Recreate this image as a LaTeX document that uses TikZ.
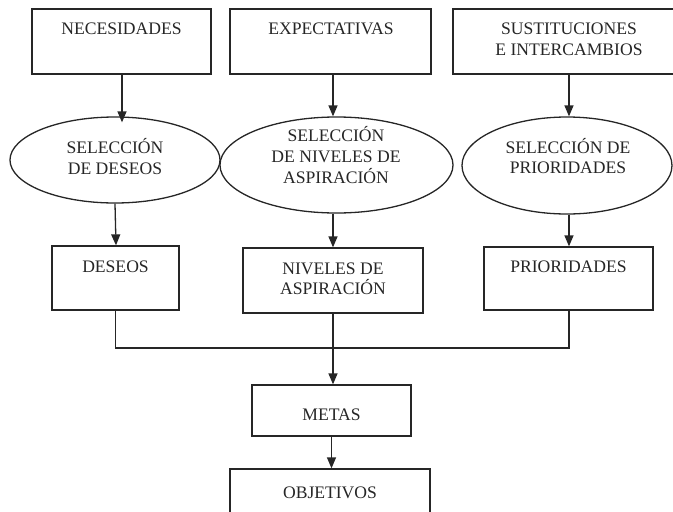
\documentclass[tikz,border=0pt]{standalone}
\usepackage{fontspec}
\setmainfont{Liberation Serif}
\usetikzlibrary{arrows.meta,shapes.geometric}

\tikzset{
  x=1pt, y=-1pt,
  line/.style={draw=black!85, line width=1.3pt},
  box/.style={line, rectangle, inner sep=0pt},
  oval/.style={line, ellipse, inner sep=0pt},
  txt/.style={anchor=base, inner sep=0pt, font=\fontsize{17.6}{21}\selectfont, text=black!85},
  arr/.style={line, -{Triangle[length=11pt,width=9pt]}},
}

\begin{document}
\begin{tikzpicture}
\useasboundingbox (0,0) rectangle (673,512);
\clip (0,0) rectangle (673,512);

% top row
\node[box, minimum width=179pt, minimum height=65pt] (nec) at (121.5,41.5) {};
\node[box, minimum width=201pt, minimum height=65pt] (exp) at (330.5,41.5) {};
\node[box, minimum width=232pt, minimum height=65pt] (sus) at (569,41.5) {};
\node[txt] (tnec) at (121.5,34) {NECESIDADES};
\node[txt] (texp) at (331,34) {EXPECTATIVAS};
\node[txt] (tsus1) at (569,34) {SUSTITUCIONES};
\node[txt] (tsus2) at (569,55) {E INTERCAMBIOS};

% selection ellipses
\node[oval, minimum width=210pt, minimum height=86pt] (e1) at (115,160) {};
\node[oval, minimum width=233pt, minimum height=96pt] (e2) at (336.5,165) {};
\node[oval, minimum width=210pt, minimum height=97pt] (e3) at (567,165.5) {};
\node[txt] (te1a) at (115,153) {SELECCIÓN};
\node[txt] (te1b) at (115,174) {DE DESEOS};
\node[txt] (te2a) at (336,141) {SELECCIÓN};
\node[txt] (te2b) at (336,162) {DE NIVELES DE};
\node[txt] (te2c) at (336,183) {ASPIRACIÓN};
\node[txt] (te3a) at (568,153) {SELECCIÓN DE};
\node[txt] (te3b) at (568,173) {PRIORIDADES};

% middle row
\node[box, minimum width=127pt, minimum height=64pt] (des) at (115.5,278) {};
\node[box, minimum width=180pt, minimum height=65pt] (niv) at (333,280.5) {};
\node[box, minimum width=169pt, minimum height=63pt] (pri) at (568.5,278.5) {};
\node[txt] (tdes) at (115.5,272) {DESEOS};
\node[txt] (tniv1) at (333,274) {NIVELES DE};
\node[txt] (tniv2) at (333,294) {ASPIRACIÓN};
\node[txt] (tpri) at (568.5,272) {PRIORIDADES};

% bottom
\node[box, minimum width=159pt, minimum height=51pt] (met) at (331.5,410.5) {};
\node[box, minimum width=200pt, minimum height=62pt] (obj) at (330,500) {};
\node[txt] (tmet) at (331.5,420) {METAS};
\node[txt] (tobj) at (330,498) {OBJETIVOS};

\coordinate (bus) at (333,348);

% connectors
\draw[arr, shorten >=-6pt] ([xshift=0.5pt]nec.south) -- ([xshift=7pt]e1.north);
\draw[arr] ([xshift=2.5pt]exp.south) -- ([xshift=-3.5pt]e2.north);
\draw[arr] (sus.south) -- ([xshift=2pt]e3.north);

\draw[arr] (e1.south) -- ([xshift=0.5pt]des.north);
\draw[arr] ([xshift=-3.5pt]e2.south) -- (niv.north);
\draw[arr] ([xshift=2pt]e3.south) -- ([xshift=0.5pt]pri.north);

\draw[line] (des.south) -- (des.south |- bus) -- ([xshift=0.5pt]pri.south |- bus) -- ([xshift=0.5pt]pri.south);
\draw[arr] (niv.south) -- (niv.south |- met.north);
\draw[arr] (met.south) -- (met.south |- obj.north);
\end{tikzpicture}
\end{document}
